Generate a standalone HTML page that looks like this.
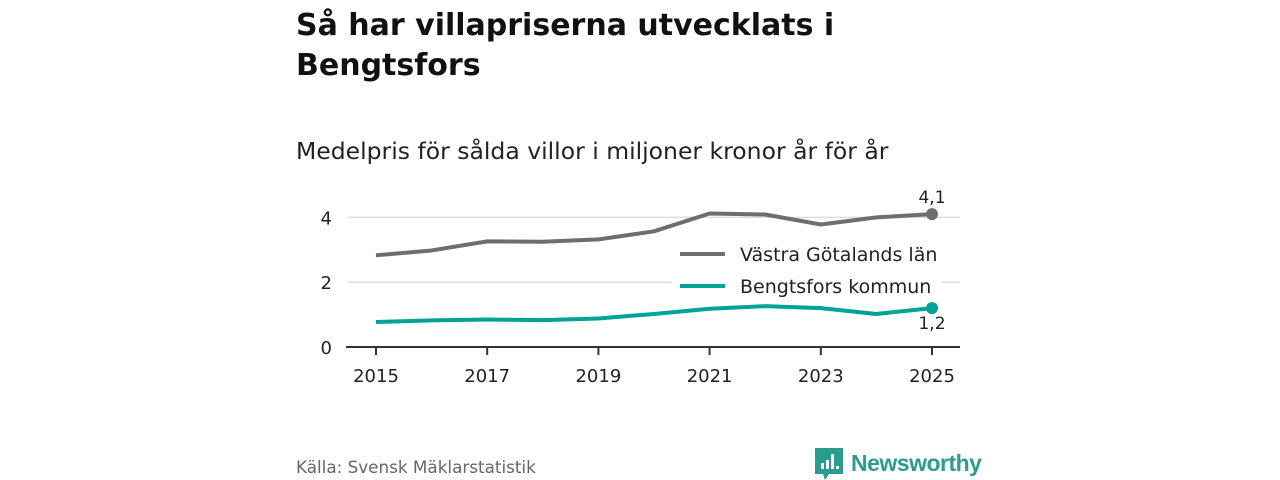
<!DOCTYPE html>
<html><head><meta charset="utf-8"><style>
body{margin:0;width:1280px;height:480px;background:#fff;font-family:"DejaVu Sans","Liberation Sans",sans-serif;overflow:hidden;position:relative}
h1{position:absolute;left:296px;top:6px;margin:0;font-size:30px;line-height:40px;font-weight:bold;color:#111}
.sub{position:absolute;left:296px;top:137px;font-size:23.5px;color:#222}
.src{position:absolute;left:296px;top:457px;font-size:16.8px;color:#666}
.logo{position:absolute;left:815px;top:446px;display:flex;align-items:center}
.logo span{font-family:"Liberation Sans",sans-serif;font-size:23px;font-weight:bold;color:#2a9d8f;margin-left:8px;letter-spacing:-0.5px}
</style></head><body>
<h1>Så har villapriserna utvecklats i<br>Bengtsfors</h1>
<div class="sub">Medelpris för sålda villor i miljoner kronor år för år</div>
<svg id="c" width="1280" height="480" style="position:absolute;left:0;top:0"></svg>
<div class="src">Källa: Svensk Mäklarstatistik</div>
<div class="logo">
<svg width="28" height="34" viewBox="0 0 28 34"><path d="M0 2h28v26H14l-4 6-2-6H0z" fill="#2a9d8f"/><rect x="6" y="17" width="3" height="6" fill="#fff"/><rect x="11" y="14" width="3" height="9" fill="#fff"/><rect x="16" y="8" width="3" height="15" fill="#fff"/><rect x="21" y="20" width="3" height="3" fill="#fff"/></svg>
<span>Newsworthy</span></div>
<script>
const years=[2015,2016,2017,2018,2019,2020,2021,2022,2023,2024,2025];
const vgValues=[2.83,2.98,3.26,3.25,3.32,3.57,4.12,4.09,3.78,4.0,4.1];
const bfValues=[0.77,0.82,0.85,0.83,0.88,1.02,1.18,1.26,1.2,1.02,1.2];
const yTicks=[0,2,4];
const xTicks=[2015,2017,2019,2021,2023,2025];
const NS="http://www.w3.org/2000/svg",svg=document.getElementById('c');
const x=v=>376+(v-2015)*55.6, y=v=>347-v*32.4;
function mk(t,a){const e=document.createElementNS(NS,t);for(const k in a)e.setAttribute(k,a[k]);svg.appendChild(e);return e;}
yTicks.forEach(t=>{
 if(t>0){const g=mk('line',{x1:348,x2:960,y1:y(t),y2:y(t),stroke:'#ddd','stroke-width':1.5});
 
 }
 const l=mk('text',{x:332,y:y(t)+7,'text-anchor':'end','font-size':18,fill:'#222','font-family':'DejaVu Sans,sans-serif'});l.textContent=t;
 
 
});
const ax=mk('line',{x1:346,x2:960,y1:347,y2:347,stroke:'#333','stroke-width':2});


xTicks.forEach(t=>{
 const tk=mk('line',{x1:x(t),x2:x(t),y1:347,y2:355,stroke:'#333','stroke-width':2});
 
 
 const l=mk('text',{x:x(t),y:382,'text-anchor':'middle','font-size':18,fill:'#222','font-family':'DejaVu Sans,sans-serif'});l.textContent=t;
 
 
});
function series(vals,col,name){
 const p=mk('polyline',{points:vals.map((v,i)=>x(years[i])+','+y(v)).join(' '),fill:'none',stroke:col,'stroke-width':4,'stroke-linejoin':'round'});
 
 
 const n=vals.length-1;
 const c=mk('circle',{cx:x(years[n]),cy:y(vals[n]),r:6,fill:col});
 
 
}
[['Västra Götalands län','#6e6d74',254],['Bengtsfors kommun','#00a396',286]].forEach(([t,c,yy])=>{
 const r=mk('rect',{x:672,y:yy-13,width:270,height:26,fill:'#fff'});
 
 
 const l=mk('line',{x1:680,x2:725,y1:yy,y2:yy,stroke:c,'stroke-width':4});
 
 
 const tx=mk('text',{x:740,y:yy+7,'font-size':19,fill:'#222','font-family':'DejaVu Sans,sans-serif'});tx.textContent=t;
 
 
});
series(vgValues,'#6e6d74','vastra-gotaland');
series(bfValues,'#00a396','bengtsfors');
const a=mk('text',{x:932,y:y(vgValues[10])-11,'text-anchor':'middle','font-size':17,fill:'#222','font-family':'DejaVu Sans,sans-serif'});a.textContent=vgValues[10].toString().replace('.',',');


const b=mk('text',{x:932,y:y(bfValues[10])+21,'text-anchor':'middle','font-size':17,fill:'#222','font-family':'DejaVu Sans,sans-serif'});b.textContent=bfValues[10].toString().replace('.',',');


</script>
</body></html>
